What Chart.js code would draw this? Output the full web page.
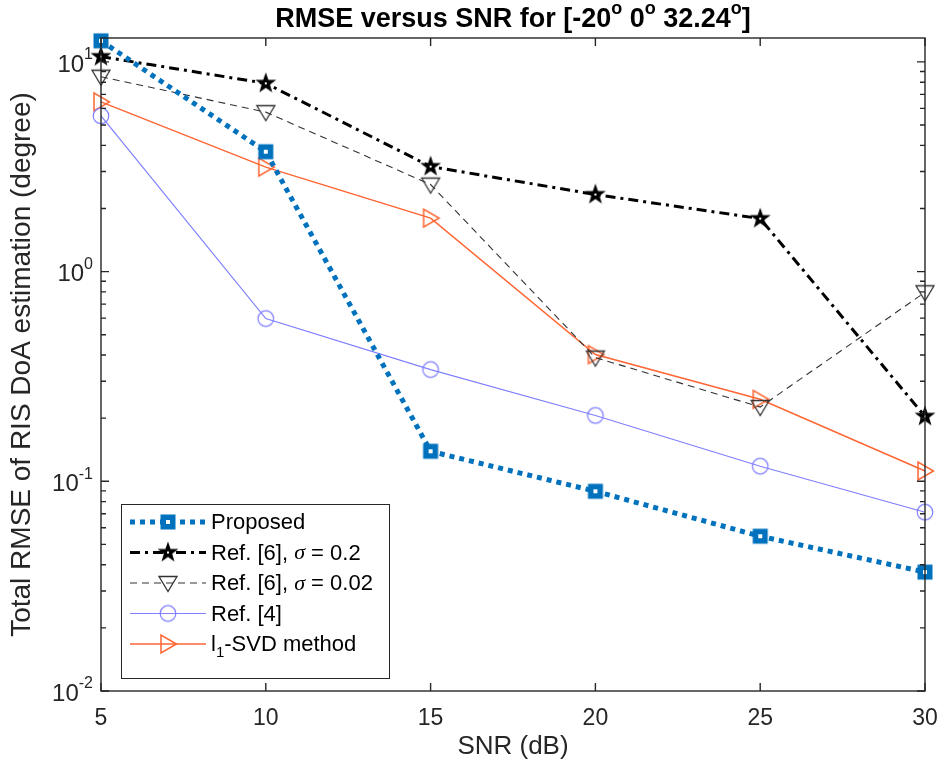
<!DOCTYPE html>
<html>
<head>
<meta charset="utf-8">
<script src="https://cdn.jsdelivr.net/npm/chart.js@4.4.1/dist/chart.umd.min.js"></script>
<style>
  html, body { margin: 0; padding: 0; background: #fff; }
</style>
</head>
<body>
<canvas id="chart" width="941" height="773"></canvas>
<script>
// Data
const snr = [5, 10, 15, 20, 25, 30];
const proposed = [12.6, 3.73, 0.139, 0.0896, 0.0547, 0.0369];
const ref6Sigma02 = [10.6, 7.9, 3.17, 2.33, 1.79, 0.204];
const ref6Sigma002 = [8.5, 5.76, 2.6, 0.389, 0.226, 0.797];
const ref4 = [5.53, 0.597, 0.341, 0.206, 0.118, 0.0712];
const l1svd = [6.45, 3.15, 1.8, 0.402, 0.246, 0.112];

const xTicks = [5, 10, 15, 20, 25, 30];
const yDecades = [-2, -1, 0, 1];

const FONT = '"Liberation Sans", Arial, Helvetica, sans-serif';
const AXIS = '#262626';

// marker images, drawn once
function makeMarker(kind, color) {
    const c = document.createElement('canvas');
    c.width = 26; c.height = 26;
    const g = c.getContext('2d');
    g.translate(13, 13);
    g.strokeStyle = color;
    g.fillStyle = color;
    if (kind === 'square') {
        g.fillRect(-7.5, -7.5, 15, 15);
        g.fillStyle = '#fff';
        g.fillRect(-2, -2, 4, 4);
    } else if (kind === 'star') {
        g.beginPath();
        for (let i = 0; i < 10; i++) {
            const r = i % 2 ? 4.4 : 11;
            const a = -Math.PI / 2 + i * Math.PI / 5;
            g.lineTo(r * Math.cos(a), r * Math.sin(a));
        }
        g.closePath();
        g.fill();
        g.fillStyle = '#fff';
        g.fillRect(-1, -1, 2, 2);
    } else if (kind === 'down') {
        g.lineWidth = 1.3;
        g.beginPath();
        g.moveTo(-9, -6.5); g.lineTo(9, -6.5); g.lineTo(0, 8.5); g.closePath();
        g.stroke();
    } else if (kind === 'right') {
        g.lineWidth = 1.5;
        g.beginPath();
        g.moveTo(-7, -9); g.lineTo(-7, 9); g.lineTo(8.5, 0); g.closePath();
        g.stroke();
    } else if (kind === 'circle') {
        g.lineWidth = 1.2;
        g.beginPath();
        g.arc(0, 0, 7.8, 0, Math.PI * 2);
        g.stroke();
    }
    return c;
}

function pts(values) {
    return snr.map((x, i) => ({ x: x, y: values[i] }));
}

// legend text pieces (σ italic, subscript 1)
const legendText = [
    [{ t: 'Proposed' }],
    [{ t: 'Ref. [6], ' }, { t: 'σ', it: true }, { t: ' = 0.2' }],
    [{ t: 'Ref. [6], ' }, { t: 'σ', it: true }, { t: ' = 0.02' }],
    [{ t: 'Ref. [4]' }],
    [{ t: 'l' }, { t: '1', sub: true }, { t: '-SVD method' }]
];

const titleText = [
    { t: 'RMSE versus SNR for [-20' }, { t: 'o', sup: true },
    { t: ' 0' }, { t: 'o', sup: true },
    { t: ' 32.24' }, { t: 'o', sup: true }, { t: ']' }
];

function segFont(s, size, bold) {
    const w = bold ? 'bold ' : '';
    if (s.it) return 'italic ' + w + size + 'px "Liberation Serif", "Times New Roman", serif';
    if (s.sup || s.sub) return w + Math.round(size * 0.68) + 'px ' + FONT;
    return w + size + 'px ' + FONT;
}

function drawRich(ctx, segs, x, y, size, bold, align) {
    let total = 0;
    segs.forEach(s => { ctx.font = segFont(s, size, bold); total += ctx.measureText(s.t).width; });
    let cx = align === 'center' ? x - total / 2 : (align === 'right' ? x - total : x);
    ctx.textAlign = 'left';
    ctx.textBaseline = 'middle';
    segs.forEach(s => {
        ctx.font = segFont(s, size, bold);
        let dy = 0;
        if (s.sup) dy = -size * 0.42;
        if (s.sub) dy = size * 0.35;
        ctx.fillText(s.t, cx, y + dy);
        cx += ctx.measureText(s.t).width;
    });
}

const frame = {
    id: 'frame',
    afterDraw(chart) {
        const ctx = chart.ctx;
        const a = chart.chartArea;
        const xs = chart.scales.x, ys = chart.scales.y;
        ctx.save();

        // box
        ctx.strokeStyle = AXIS;
        ctx.lineWidth = 1.4;
        ctx.strokeRect(a.left, a.top, a.right - a.left, a.bottom - a.top);

        // x ticks (inward, bottom and top)
        ctx.beginPath();
        xTicks.forEach(v => {
            const px = xs.getPixelForValue(v);
            ctx.moveTo(px, a.bottom); ctx.lineTo(px, a.bottom - 8);
            ctx.moveTo(px, a.top); ctx.lineTo(px, a.top + 8);
        });
        // y ticks, major and minor, left and right
        yDecades.forEach(d => {
            for (let m = 1; m <= 9; m++) {
                const v = m * Math.pow(10, d);
                if (v > ys.max || v < ys.min) continue;
                const py = ys.getPixelForValue(v);
                const len = m === 1 ? 8 : 5;
                ctx.moveTo(a.left, py); ctx.lineTo(a.left + len, py);
                ctx.moveTo(a.right, py); ctx.lineTo(a.right - len, py);
            }
        });
        ctx.stroke();

        // y tick labels 10^k
        ctx.fillStyle = AXIS;
        yDecades.forEach(d => {
            const py = ys.getPixelForValue(Math.pow(10, d));
            drawRich(ctx, [{ t: '10' }, { t: String(d), sup: true }],
                a.left - 8, py + 3, 24, false, 'right');
        });

        // title
        ctx.fillStyle = '#000';
        drawRich(ctx, titleText, (a.left + a.right) / 2, 20, 27, true, 'center');

        // legend
        const lx = 121, ly = 504, lw = 268, lh = 174;
        ctx.fillStyle = '#fff';
        ctx.fillRect(lx, ly, lw, lh);
        ctx.strokeStyle = AXIS;
        ctx.lineWidth = 1;
        ctx.strokeRect(lx + 0.5, ly + 0.5, lw, lh);
        chart.data.datasets.forEach((ds, i) => {
            const y = ly + 18 + i * 30.5;
            ctx.save();
            ctx.strokeStyle = ds.borderColor;
            ctx.lineWidth = ds.borderWidth;
            ctx.setLineDash(ds.borderDash || []);
            ctx.beginPath();
            ctx.moveTo(130, y); ctx.lineTo(206, y);
            ctx.stroke();
            ctx.restore();
            const img = ds.pointStyle;
            ctx.drawImage(img, 168 - img.width / 2, y - img.height / 2);
            ctx.fillStyle = '#000';
            drawRich(ctx, legendText[i], 211, y + 1, 22, false, 'left');
        });

        ctx.restore();
    }
};

const chart = new Chart(document.getElementById('chart'), {
    type: 'line',
    data: {
        datasets: [
            {
                label: 'Proposed', data: pts(proposed),
                borderColor: '#0072BD', borderWidth: 5, borderDash: [5, 5],
                pointStyle: makeMarker('square', '#0072BD')
            },
            {
                label: 'Ref. [6], σ = 0.2', data: pts(ref6Sigma02),
                borderColor: '#000', borderWidth: 3, borderDash: [10, 5, 3, 5],
                pointStyle: makeMarker('star', '#000')
            },
            {
                label: 'Ref. [6], σ = 0.02', data: pts(ref6Sigma002),
                borderColor: '#333', borderWidth: 1.1, borderDash: [7, 5],
                pointStyle: makeMarker('down', '#333')
            },
            {
                label: 'Ref. [4]', data: pts(ref4),
                borderColor: '#7F7FFF', borderWidth: 1.2,
                pointStyle: makeMarker('circle', '#7F7FFF')
            },
            {
                label: 'l1-SVD method', data: pts(l1svd),
                borderColor: '#FF6633', borderWidth: 1.5,
                pointStyle: makeMarker('right', '#FF6633')
            }
        ]
    },
    options: {
        responsive: false,
        animation: false,
        events: [],
        layout: { padding: { left: 0, right: 16, top: 38, bottom: 0 } },
        elements: {
            line: { tension: 0, fill: false, borderCapStyle: 'butt' },
            point: { radius: 8 }
        },
        datasets: { line: { clip: false } },
        plugins: {
            legend: { display: false },
            title: { display: false },
            tooltip: { enabled: false }
        },
        scales: {
            x: {
                type: 'linear', min: 5, max: 30,
                afterFit(s) { s.height = 82; s.paddingLeft = 0; s.paddingRight = 0; },
                afterBuildTicks(s) { s.ticks = xTicks.map(v => ({ value: v })); },
                grid: { display: false, drawTicks: false },
                border: { display: false },
                ticks: { color: AXIS, font: { family: FONT, size: 23 }, padding: 14 },
                title: {
                    display: true, text: 'SNR (dB)', color: AXIS,
                    font: { family: FONT, size: 26 }, padding: { top: 0, bottom: 11 }
                }
            },
            y: {
                type: 'logarithmic', min: 0.01, max: 13,
                afterFit(s) { s.width = 101; s.paddingTop = 0; s.paddingBottom = 0; },
                grid: { display: false, drawTicks: false },
                border: { display: false },
                ticks: { display: false },
                title: {
                    display: true, text: 'Total RMSE of RIS DoA estimation (degree)', color: AXIS,
                    font: { family: FONT, size: 28 }, padding: { top: 5, bottom: 0 }
                }
            }
        }
    },
    plugins: [frame]
});
</script>
</body>
</html>
